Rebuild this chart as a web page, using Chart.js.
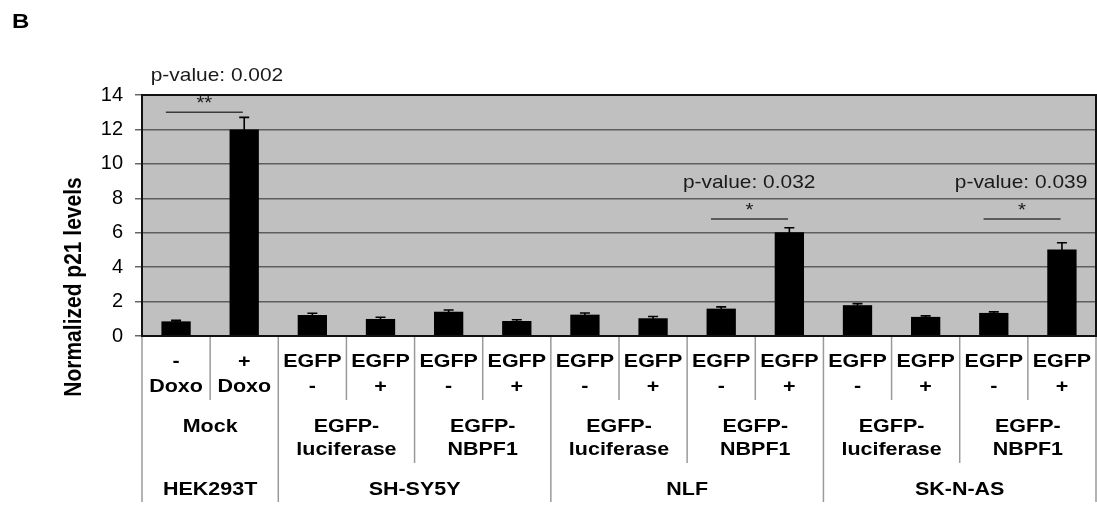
<!DOCTYPE html>
<html><head><meta charset="utf-8">
<script src="https://cdn.jsdelivr.net/npm/chart.js@4.4.1/dist/chart.umd.min.js"></script>
<style>
html,body{margin:0;padding:0;background:#fff;overflow:hidden;width:1097px;height:509px}
#wrap{position:relative;width:1097px;height:509px}
</style></head>
<body><div id="wrap"><canvas id="c" width="1097" height="509"></canvas></div>
<script>
// ---- data ----
const categories = ['HEK293T Mock -Doxo','HEK293T Mock +Doxo',
  'SH-SY5Y luc EGFP-','SH-SY5Y luc EGFP+','SH-SY5Y NBPF1 EGFP-','SH-SY5Y NBPF1 EGFP+',
  'NLF luc EGFP-','NLF luc EGFP+','NLF NBPF1 EGFP-','NLF NBPF1 EGFP+',
  'SK-N-AS luc EGFP-','SK-N-AS luc EGFP+','SK-N-AS NBPF1 EGFP-','SK-N-AS NBPF1 EGFP+'];
const values = [0.85, 12.0, 1.22, 0.99, 1.41, 0.87, 1.24, 1.03, 1.59, 6.02, 1.79, 1.11, 1.34, 5.03];
const errors = [0.06, 0.70, 0.10, 0.10, 0.10, 0.07, 0.10, 0.10, 0.10, 0.27, 0.09, 0.06, 0.06, 0.39];
const yTicks = [0, 2, 4, 6, 8, 10, 12, 14];
const level1Labels = [['-','Doxo'],['+','Doxo'],['EGFP','-'],['EGFP','+'],['EGFP','-'],['EGFP','+'],
  ['EGFP','-'],['EGFP','+'],['EGFP','-'],['EGFP','+'],['EGFP','-'],['EGFP','+'],['EGFP','-'],['EGFP','+']];
const level2Labels = [['Mock'],['EGFP-','luciferase'],['EGFP-','NBPF1'],['EGFP-','luciferase'],['EGFP-','NBPF1'],['EGFP-','luciferase'],['EGFP-','NBPF1']];
const level2Spans = [2, 2, 2, 2, 2, 2, 2];
const level3Labels = ['HEK293T','SH-SY5Y','NLF','SK-N-AS'];
const level3Spans = [2, 4, 4, 4];
const sigPairs = [[0, 1], [8, 9], [12, 13]];
const sigStars = ['**', '*', '*'];
const sigLevels = [13.0, 6.8, 6.8];
const pValueTexts = ['p-value: 0.002', 'p-value: 0.032', 'p-value: 0.039'];
const pValueCenters = [0.6, 8.41, 12.4];

const FONT = '"Liberation Sans", Arial, sans-serif';
const SX = 1.13;

function sText(ctx, t, x, y, sx){
  ctx.save(); ctx.translate(x, y); ctx.scale(sx, 1); ctx.fillText(t, 0, 0); ctx.restore();
}

const plotBg = {
  id: 'plotBg',
  beforeDraw(chart){
    const {ctx, chartArea: a} = chart;
    ctx.save(); ctx.fillStyle = '#c0c0c0';
    ctx.fillRect(a.left, a.top, a.right - a.left, a.bottom - a.top);
    ctx.restore();
  }
};

const errorBars = {
  id: 'errorBars',
  afterDatasetsDraw(chart){
    const {ctx, scales: {x, y}} = chart;
    ctx.save(); ctx.strokeStyle = '#000'; ctx.lineWidth = 1.6;
    values.forEach((v, i) => {
      const px = x.getPixelForValue(i);
      const t = y.getPixelForValue(v + errors[i]);
      const b = y.getPixelForValue(v - errors[i]);
      ctx.beginPath();
      ctx.moveTo(px, b); ctx.lineTo(px, t);
      ctx.moveTo(px - 5, t); ctx.lineTo(px + 5, t);
      ctx.moveTo(px - 5, b); ctx.lineTo(px + 5, b);
      ctx.stroke();
    });
    ctx.restore();
  }
};

const annotations = {
  id: 'annotations',
  afterDraw(chart){
    const {ctx, chartArea: a, scales: {x, y}} = chart;
    const step = x.getPixelForValue(1) - x.getPixelForValue(0);
    ctx.save();
    // plot border
    ctx.strokeStyle = '#111'; ctx.lineWidth = 2;
    ctx.strokeRect(a.left, a.top, a.right - a.left, a.bottom - a.top);

    // significance brackets
    ctx.fillStyle = '#1a1a1a'; ctx.strokeStyle = '#3a3a3a'; ctx.lineWidth = 1.6;
    ctx.textAlign = 'center'; ctx.textBaseline = 'middle';
    sigPairs.forEach((p, k) => {
      const x1 = x.getPixelForValue(p[0]) - step * 0.15;
      const x2 = x.getPixelForValue(p[1]) - step * 0.02;
      const ly = y.getPixelForValue(sigLevels[k]);
      ctx.beginPath(); ctx.moveTo(x1, ly); ctx.lineTo(x2, ly); ctx.stroke();
      ctx.font = '18px ' + FONT;
      sText(ctx, sigStars[k], (x1 + x2) / 2, ly - 8, SX);
      ctx.font = '19px ' + FONT;
      sText(ctx, pValueTexts[k], x.getPixelForValue(pValueCenters[k]), ly - 36, 1.1);
    });

    // category separators
    const base = a.bottom + 1;
    ctx.strokeStyle = '#9a9a9a'; ctx.lineWidth = 1.5;
    const edge = i => x.getPixelForValue(i) - step / 2;
    const vline = (px, y2) => { ctx.beginPath(); ctx.moveTo(px, base); ctx.lineTo(px, y2); ctx.stroke(); };
    let idx = 0;
    level2Spans.forEach(s => { for (let j = 1; j < s; j++) vline(edge(idx + j), 400); idx += s; });
    const l3Edges = new Set(); idx = 0;
    level3Spans.forEach(s => { l3Edges.add(idx); idx += s; }); l3Edges.add(idx);
    idx = 0;
    level2Spans.forEach(s => { if (!l3Edges.has(idx)) vline(edge(idx), 463); idx += s; });
    l3Edges.forEach(i => vline(edge(i), 502));

    // labels
    ctx.fillStyle = '#000';
    ctx.font = 'bold 19px ' + FONT;
    level1Labels.forEach((l, i) => {
      const px = x.getPixelForValue(i);
      sText(ctx, l[0], px, 362, SX);
      sText(ctx, l[1], px, 387, SX);
    });
    idx = 0;
    level2Labels.forEach((l, k) => {
      const px = (x.getPixelForValue(idx) + x.getPixelForValue(idx + level2Spans[k] - 1)) / 2;
      l.forEach((t, r) => sText(ctx, t, px, 427 + r * 23, SX));
      idx += level2Spans[k];
    });
    idx = 0;
    level3Labels.forEach((t, k) => {
      const px = (x.getPixelForValue(idx) + x.getPixelForValue(idx + level3Spans[k] - 1)) / 2;
      sText(ctx, t, px, 490, SX);
      idx += level3Spans[k];
    });

    // y-axis title
    ctx.save();
    ctx.translate(81, 287); ctx.rotate(-Math.PI / 2); ctx.scale(1, SX);
    ctx.font = 'bold 21px ' + FONT; ctx.textBaseline = 'alphabetic'; ctx.textAlign = 'center';
    ctx.fillText('Normalized p21 levels', 0, 0);
    ctx.restore();

    // panel letter
    ctx.font = 'bold 20px ' + FONT; ctx.textAlign = 'left'; ctx.textBaseline = 'middle';
    sText(ctx, 'B', 12, 22, 1.2);
    ctx.restore();
  }
};

new Chart(document.getElementById('c'), {
  type: 'bar',
  data: {
    labels: categories,
    datasets: [{
      data: values,
      backgroundColor: '#000',
      borderWidth: 0,
      barPercentage: 0.43,
      categoryPercentage: 1.0
    }]
  },
  options: {
    responsive: false,
    animation: false,
    devicePixelRatio: 1,
    layout: { padding: { top: 95, bottom: 173, left: 0, right: 1 } },
    plugins: { legend: { display: false }, tooltip: { enabled: false }, title: { display: false } },
    scales: {
      x: { display: false, offset: true, grid: { display: false } },
      y: {
        min: 0, max: 14,
        afterFit(s){ s.width = 142; },
        afterBuildTicks(s){ s.ticks = yTicks.map(v => ({ value: v })); },
        border: { display: true, color: '#111', width: 2 },
        grid: { color: '#5e5e5e', lineWidth: 1.5, tickLength: 7, tickColor: '#666', drawTicks: true },
        ticks: { color: '#000', padding: 12, font: { family: FONT, size: 20 } }
      }
    }
  },
  plugins: [plotBg, errorBars, annotations]
});
</script>
</body></html>
